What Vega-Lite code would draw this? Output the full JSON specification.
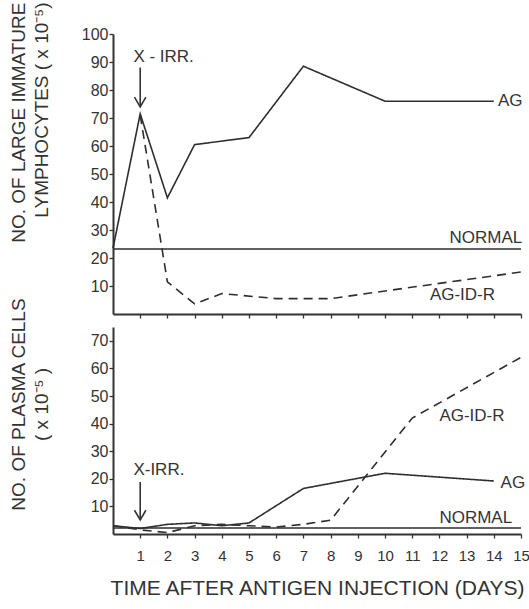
{
  "$schema": "https://vega.github.io/schema/vega-lite/v6.json",
  "padding": {"left": 9, "top": 2, "right": 0, "bottom": 2},
  "background": "white",
  "datasets": {
    "lines": [
      {"panel": "top", "series": "AG", "day": 0, "value": 23.5},
      {"panel": "top", "series": "AG", "day": 1, "value": 71.5},
      {"panel": "top", "series": "AG", "day": 2, "value": 41.5},
      {"panel": "top", "series": "AG", "day": 3, "value": 60.5},
      {"panel": "top", "series": "AG", "day": 5, "value": 63},
      {"panel": "top", "series": "AG", "day": 7, "value": 88.5},
      {"panel": "top", "series": "AG", "day": 10, "value": 76},
      {"panel": "top", "series": "AG", "day": 14, "value": 76},
      {"panel": "top", "series": "AG-ID-R", "day": 1, "value": 71},
      {"panel": "top", "series": "AG-ID-R", "day": 2, "value": 11.5},
      {"panel": "top", "series": "AG-ID-R", "day": 3, "value": 3.6},
      {"panel": "top", "series": "AG-ID-R", "day": 4, "value": 7.3},
      {"panel": "top", "series": "AG-ID-R", "day": 6, "value": 5.5},
      {"panel": "top", "series": "AG-ID-R", "day": 8, "value": 5.5},
      {"panel": "top", "series": "AG-ID-R", "day": 15, "value": 15},
      {"panel": "top", "series": "NORMAL", "day": 0, "value": 23.2},
      {"panel": "top", "series": "NORMAL", "day": 15, "value": 23.2},
      {"panel": "bottom", "series": "AG", "day": 0, "value": 3},
      {"panel": "bottom", "series": "AG", "day": 1, "value": 2},
      {"panel": "bottom", "series": "AG", "day": 2, "value": 3.5},
      {"panel": "bottom", "series": "AG", "day": 3, "value": 4},
      {"panel": "bottom", "series": "AG", "day": 4, "value": 3},
      {"panel": "bottom", "series": "AG", "day": 5, "value": 4},
      {"panel": "bottom", "series": "AG", "day": 7, "value": 16.5},
      {"panel": "bottom", "series": "AG", "day": 10, "value": 22},
      {"panel": "bottom", "series": "AG", "day": 14, "value": 19.2},
      {"panel": "bottom", "series": "AG-ID-R", "day": 0, "value": 3},
      {"panel": "bottom", "series": "AG-ID-R", "day": 1, "value": 1.5},
      {"panel": "bottom", "series": "AG-ID-R", "day": 2, "value": 0.5},
      {"panel": "bottom", "series": "AG-ID-R", "day": 3, "value": 3},
      {"panel": "bottom", "series": "AG-ID-R", "day": 4, "value": 3.5},
      {"panel": "bottom", "series": "AG-ID-R", "day": 5, "value": 3},
      {"panel": "bottom", "series": "AG-ID-R", "day": 6, "value": 2.5},
      {"panel": "bottom", "series": "AG-ID-R", "day": 7, "value": 3.5},
      {"panel": "bottom", "series": "AG-ID-R", "day": 8, "value": 5},
      {"panel": "bottom", "series": "AG-ID-R", "day": 11, "value": 42},
      {"panel": "bottom", "series": "AG-ID-R", "day": 15, "value": 64},
      {"panel": "bottom", "series": "NORMAL", "day": 0, "value": 2.2},
      {"panel": "bottom", "series": "NORMAL", "day": 15, "value": 2.2}
    ],
    "labels": [
      {"panel": "top", "day": 14.15, "value": 76, "text": "AG"},
      {"panel": "top", "day": 12.37, "value": 27.3, "text": "NORMAL"},
      {"panel": "top", "day": 11.65, "value": 6.8, "text": "AG-ID-R"},
      {"panel": "top", "day": 0.75, "value": 91.8, "text": "X - IRR."},
      {"panel": "bottom", "day": 14.25, "value": 18.6, "text": "AG"},
      {"panel": "bottom", "day": 12.0, "value": 5.8, "text": "NORMAL"},
      {"panel": "bottom", "day": 12.0, "value": 42.7, "text": "AG-ID-R"},
      {"panel": "bottom", "day": 0.75, "value": 23.2, "text": "X-IRR."}
    ],
    "arrows": [
      {"panel": "top", "day": 1, "from": 88, "tip": 74},
      {"panel": "bottom", "day": 1, "from": 18.8, "tip": 5.1}
    ]
  },
  "config": {
    "font": "Liberation Sans",
    "view": {"stroke": null},
    "axis": {
      "grid": false,
      "domainColor": "#333",
      "domainWidth": 2,
      "tickColor": "#333",
      "tickWidth": 1.3,
      "tickSize": 4,
      "tickCount": 30,
      "format": "d",
      "labelColor": "#333",
      "labelFontSize": 16,
      "labelPadding": 1,
      "labelOverlap": false,
      "labelBound": false,
      "labelFlush": false,
      "titleColor": "#333",
      "titleFontWeight": "normal",
      "titleFontSize": 19
    }
  },
  "bounds": "flush",
  "spacing": 13,
  "vconcat": [
    {
      "width": 408,
      "height": 280,
      "layer": [
        {
          "data": {"name": "lines"},
          "transform": [{"filter": "datum.panel == 'top'"}],
          "mark": {"type": "line", "color": "#2e2e2e", "strokeWidth": 1.6},
          "encoding": {
            "x": {"field": "day", "type": "quantitative", "scale": {"domain": [0, 15], "nice": false},
                  "axis": {"values": [1,2,3,4,5,6,7,8,9,10,11,12,13,14,15], "tickCount": 30, "format": "d", "labels": false, "title": null}},
            "y": {"field": "value", "type": "quantitative", "scale": {"domain": [0, 100], "nice": false},
                  "axis": {"values": [10,20,30,40,50,60,70,80,90,100], "tickCount": 30, "format": "d", "labelOverlap": false,
                           "title": ["NO. OF LARGE IMMATURE", "LYMPHOCYTES ( x 10⁻⁵)"],
                           "titleAngle": 270, "titleAnchor": "end", "titleAlign": "right", "titleBaseline": "bottom",
                           "titleLineHeight": 23, "titleX": -85, "titleY": -32}},
            "strokeDash": {"field": "series", "type": "nominal",
                           "scale": {"domain": ["AG", "AG-ID-R", "NORMAL"], "range": [[1, 0], [9, 6], [1, 0]]},
                           "legend": null}
          }
        },
        {
          "data": {"name": "labels"},
          "transform": [{"filter": "datum.panel == 'top'"}],
          "mark": {"type": "text", "align": "left", "baseline": "middle", "fontSize": 17, "color": "#333"},
          "encoding": {
            "x": {"field": "day", "type": "quantitative"},
            "y": {"field": "value", "type": "quantitative"},
            "text": {"field": "text"}
          }
        },
        {
          "data": {"name": "arrows"},
          "transform": [{"filter": "datum.panel == 'top'"}],
          "mark": {"type": "rule", "color": "#333", "strokeWidth": 1.6},
          "encoding": {
            "x": {"field": "day", "type": "quantitative"},
            "y": {"field": "from", "type": "quantitative"},
            "y2": {"field": "tip"}
          }
        },
        {
          "data": {"name": "arrows"},
          "transform": [{"filter": "datum.panel == 'top'"}],
          "mark": {"type": "point", "shape": "M-1,-1.7L0,0L1,-1.7", "filled": false, "size": 130, "color": "#333", "strokeWidth": 1.6, "opacity": 1},
          "encoding": {
            "x": {"field": "day", "type": "quantitative"},
            "y": {"field": "tip", "type": "quantitative"}
          }
        }
      ]
    },
    {
      "width": 408,
      "height": 207,
      "layer": [
        {
          "data": {"name": "lines"},
          "transform": [{"filter": "datum.panel == 'bottom'"}],
          "mark": {"type": "line", "color": "#2e2e2e", "strokeWidth": 1.6},
          "encoding": {
            "x": {"field": "day", "type": "quantitative", "scale": {"domain": [0, 15], "nice": false},
                  "axis": {"values": [1,2,3,4,5,6,7,8,9,10,11,12,13,14,15], "tickCount": 30, "format": "d", "labelOverlap": false, "labelFlush": false, "labelFontSize": 15, "labelPadding": 10,
                           "title": "TIME AFTER ANTIGEN INJECTION (DAYS)", "titleFontSize": 21, "titlePadding": 14}},
            "y": {"field": "value", "type": "quantitative", "scale": {"domain": [0, 75], "nice": false},
                  "axis": {"values": [10,20,30,40,50,60,70], "tickCount": 30, "format": "d", "labelOverlap": false,
                           "title": ["NO. OF PLASMA CELLS", "(  x  10⁻⁵  )"],
                           "titleAngle": 270, "titleAnchor": "middle", "titleAlign": "center", "titleBaseline": "bottom",
                           "titleLineHeight": 23, "titleX": -85, "titleY": 77}},
            "strokeDash": {"field": "series", "type": "nominal",
                           "scale": {"domain": ["AG", "AG-ID-R", "NORMAL"], "range": [[1, 0], [9, 6], [1, 0]]},
                           "legend": null}
          }
        },
        {
          "data": {"name": "labels"},
          "transform": [{"filter": "datum.panel == 'bottom'"}],
          "mark": {"type": "text", "align": "left", "baseline": "middle", "fontSize": 17, "color": "#333"},
          "encoding": {
            "x": {"field": "day", "type": "quantitative"},
            "y": {"field": "value", "type": "quantitative"},
            "text": {"field": "text"}
          }
        },
        {
          "data": {"name": "arrows"},
          "transform": [{"filter": "datum.panel == 'bottom'"}],
          "mark": {"type": "rule", "color": "#333", "strokeWidth": 1.6},
          "encoding": {
            "x": {"field": "day", "type": "quantitative"},
            "y": {"field": "from", "type": "quantitative"},
            "y2": {"field": "tip"}
          }
        },
        {
          "data": {"name": "arrows"},
          "transform": [{"filter": "datum.panel == 'bottom'"}],
          "mark": {"type": "point", "shape": "M-1,-1.7L0,0L1,-1.7", "filled": false, "size": 130, "color": "#333", "strokeWidth": 1.6, "opacity": 1},
          "encoding": {
            "x": {"field": "day", "type": "quantitative"},
            "y": {"field": "tip", "type": "quantitative"}
          }
        }
      ]
    }
  ]
}
